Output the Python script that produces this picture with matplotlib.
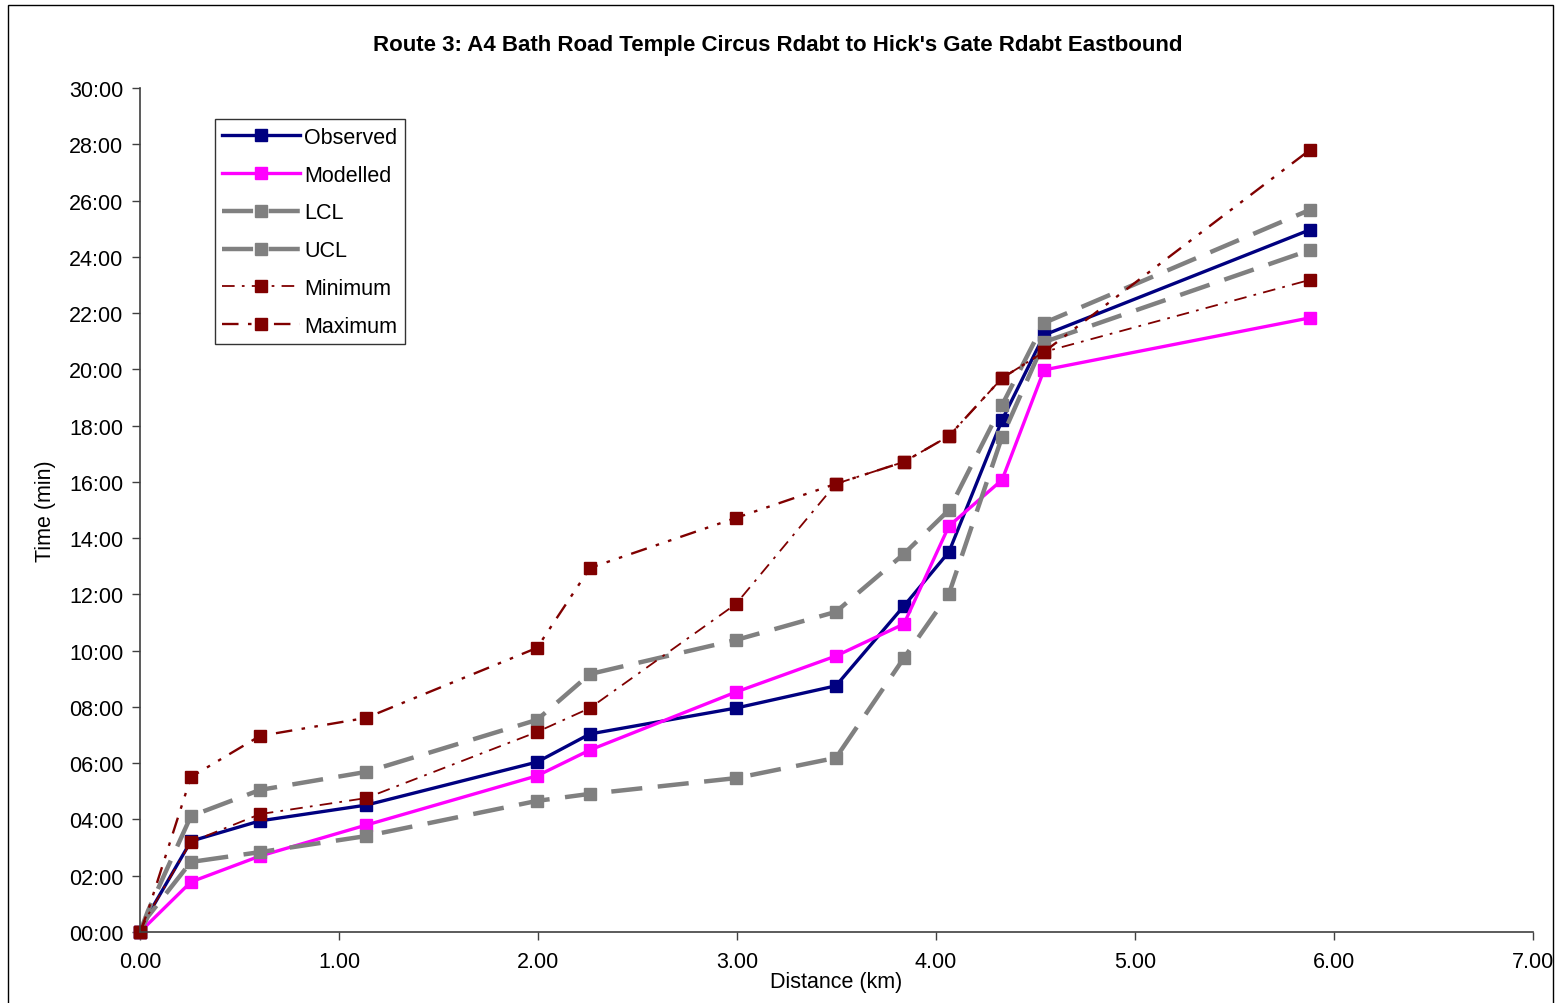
import matplotlib
matplotlib.use("Agg")
import matplotlib.pyplot as plt
from matplotlib.patches import Rectangle
from matplotlib.ticker import FuncFormatter, MultipleLocator

# distance along route (km)
distance = [0.00, 0.04, 0.256, 0.603, 1.136, 1.995, 2.261, 2.995, 3.497,
            3.839, 4.065, 4.332, 4.543, 5.879]

# cumulative journey time (minutes)
observed = [0.0, 0.6, 3.23, 3.95, 4.51, 6.04, 7.04, 7.96, 8.75,
            11.59, 13.51, 18.20, 21.22, 24.96]
modelled = [0.0, 0.28, 1.78, 2.70, 3.80, 5.55, 6.47, 8.53, 9.81,
            10.95, 14.43, 16.07, 19.98, 21.83]
lcl = [0.0, 0.55, 2.49, 2.84, 3.41, 4.66, 4.91, 5.47, 6.19,
       9.74, 12.02, 17.60, 20.97, 24.24]
ucl = [0.0, 0.75, 4.12, 5.05, 5.69, 7.54, 9.17, 10.38, 11.38,
       13.44, 15.00, 18.73, 21.65, 25.67]
minimum = [0.0, 0.6, 3.20, 4.19, 4.76, 7.11, 7.96, 11.66, 15.93,
           16.71, 17.63, 19.69, 20.62, 23.18]
maximum = [0.0, 0.75, 5.51, 6.97, 7.61, 10.10, 12.94, 14.72, 15.93,
           16.71, 17.63, 19.69, 20.62, 27.80]

NAVY = "#000080"
MAGENTA = "#FF00FF"
GREY = "#808080"
MAROON = "#800000"

plt.rcParams["font.family"] = ["Liberation Sans", "DejaVu Sans"]

fig = plt.figure(figsize=(15.55, 10.04), dpi=100)
ax = fig.add_axes([140 / 1555, 71 / 1004, 1393 / 1555, 844 / 1004])

# chart area border
fig.patches.append(Rectangle((8 / 1555, -0.01), 1545 / 1555, 1.01 - 6 / 1004,
                             transform=fig.transFigure, fill=False,
                             edgecolor="black", linewidth=1.0))

# marker on every point except the tiny one right next to the origin
marks = [0] + list(range(2, len(distance)))
common = dict(marker="s", ms=8.5, markevery=marks, clip_on=False)

ax.plot(distance, observed, color=NAVY, lw=2.4, label="Observed", **common)
ax.plot(distance, modelled, color=MAGENTA, lw=2.4, label="Modelled", **common)
ax.plot(distance, lcl, color=GREY, lw=3.2, dashes=(7, 3.5), label="LCL", **common)
ax.plot(distance, ucl, color=GREY, lw=3.2, dashes=(7, 3.5), label="UCL", **common)
ax.plot(distance, minimum, color=MAROON, lw=1.3, dashes=(7, 4, 1.5, 4),
        label="Minimum", **common)
ax.plot(distance, maximum, color=MAROON, lw=1.7, dashes=(7, 4, 1.5, 4, 1.5, 4),
        label="Maximum", **common)

ax.set_xlim(0, 7)
ax.set_ylim(0, 30)
ax.xaxis.set_major_locator(MultipleLocator(1))
ax.yaxis.set_major_locator(MultipleLocator(2))
ax.xaxis.set_major_formatter(FuncFormatter(lambda v, p: f"{v:.2f}"))
ax.yaxis.set_major_formatter(FuncFormatter(lambda v, p: f"{int(round(v)):02d}:00"))
ax.tick_params(direction="out", length=6, width=1, labelsize=15.5,
               color="#404040")
ax.tick_params(axis="y", pad=6)
ax.tick_params(axis="x", pad=8)

for s in ("top", "right"):
    ax.spines[s].set_visible(False)
for s in ("left", "bottom"):
    ax.spines[s].set_color("#404040")
    ax.spines[s].set_linewidth(1.2)

ax.set_xlabel("Distance (km)", fontsize=15.5)
ax.xaxis.set_label_coords(0.5, -0.059)
ax.xaxis.label.set_va("center")
ax.set_ylabel("Time (min)", fontsize=15.5)
ax.yaxis.set_label_coords(-0.068, 0.5)
ax.yaxis.label.set_va("center")

fig.text(0.5, 1 - 45 / 1004,
         "Route 3: A4 Bath Road Temple Circus Rdabt to Hick's Gate Rdabt Eastbound",
         ha="center", va="center", fontsize=16, fontweight="bold")

leg = ax.legend(loc="upper left", bbox_to_anchor=(0.0538, 0.963),
                fontsize=15.5, frameon=True, fancybox=False, shadow=False,
                handlelength=3.6, handletextpad=0.2, labelspacing=0.78,
                borderpad=0.35, borderaxespad=0)
leg.get_frame().set_edgecolor("black")
leg.get_frame().set_linewidth(1.0)

fig.savefig("out.png", dpi=100)
